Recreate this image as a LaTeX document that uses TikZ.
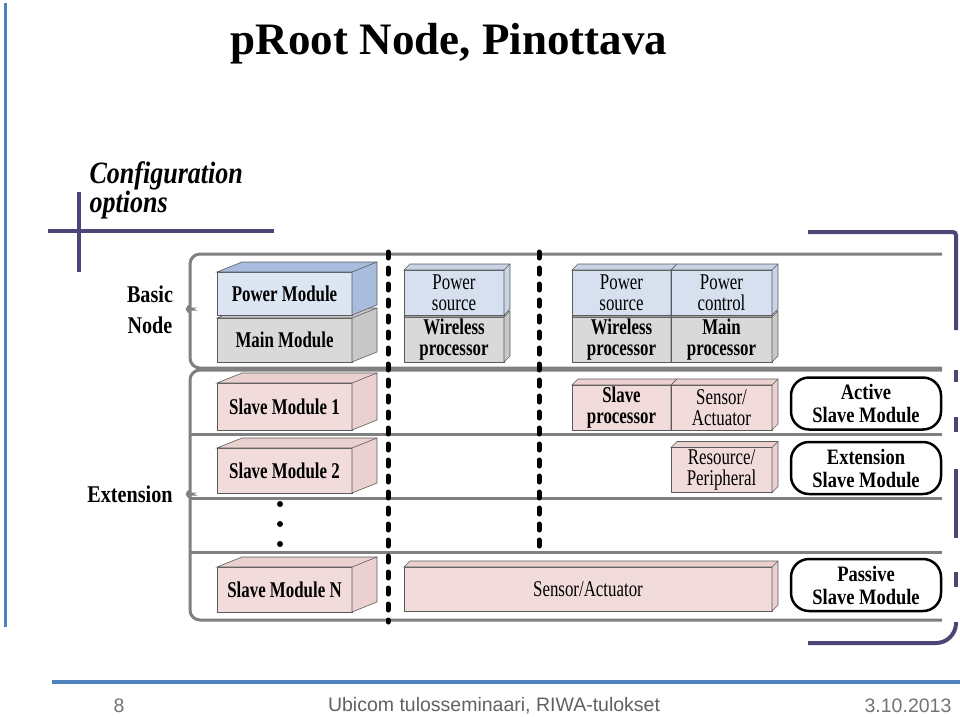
\documentclass[tikz,border=0pt]{standalone}
\usepackage{fontspec}
\setmainfont{Liberation Serif}
\newfontfamily\diagfont{Liberation Serif}[FakeStretch=0.84]
\newfontfamily\modfont{Liberation Serif}[FakeStretch=0.75]
\newfontfamily\footfont{Liberation Sans}
\usepackage{tikz}
\usetikzlibrary{positioning}

\definecolor{slideblue}{RGB}{79,129,189}
\definecolor{slidepurple}{RGB}{78,68,118}
\definecolor{rowgray}{RGB}{128,128,128}
\definecolor{edgegray}{RGB}{90,90,90}
\definecolor{pwrfront}{RGB}{220,230,242}
\definecolor{pwrside}{RGB}{168,189,222}
\definecolor{srcfront}{RGB}{214,224,238}
\definecolor{srcside}{RGB}{200,212,230}
\definecolor{mainfront}{RGB}{217,217,217}
\definecolor{mainside}{RGB}{200,200,200}
\definecolor{slavefront}{RGB}{242,220,219}
\definecolor{slaveside}{RGB}{234,208,207}

\tikzset{
  module/.style={draw=edgegray, line width=0.6pt, outer sep=0pt, inner sep=1pt,
    align=center, font=\modfont\fontsize{22.5}{21}\selectfont},
  kind/.style={draw, line width=2.5pt, rounded corners=18pt, minimum width=150pt,
    minimum height=52pt, align=center, font=\diagfont\bfseries\fontsize{22}{23}\selectfont},
  rowline/.style={rowgray, line width=3pt},
  bracket/.style={rowgray, line width=3pt, rounded corners=10pt},
  purpline/.style={slidepurple, line width=4pt},
  colsep/.style={line width=5pt, line cap=round, dash pattern=on 6pt off 10pt},
  grouplabel/.style={align=center, font=\diagfont\bfseries\fontsize{24}{31}\selectfont}
}

% top and side faces of a module box
\newcommand{\boxfaces}[4]{%
  \filldraw[draw=edgegray, line width=0.6pt, fill=#4]
    (#1.north west) -- ++(#2,-#3) -- ([shift={(#2,-#3)}]#1.north east)
    -- ([shift={(#2,-#3)}]#1.south east) -- (#1.south east) -- (#1.north east) -- cycle;
  \draw[edgegray, line width=0.6pt] (#1.north east) -- ++(#2,-#3);
}

\begin{document}
\begin{tikzpicture}[x=1pt,y=-1pt]
\useasboundingbox (0,0) rectangle (960,716);

% slide frame
\draw[slideblue, line width=3pt] (5,3) -- (5,627);
\draw[slideblue, line width=4pt] (52,682) -- (960,682);
\node[font=\bfseries\fontsize{45}{50}\selectfont] (title) at (449,44) {pRoot Node, Pinottava};
\node[font=\footfont\fontsize{19.5}{22}\selectfont, text=black!55] (pageno) at (119,706) {8};
\node[font=\footfont\fontsize{19.5}{22}\selectfont, text=black!62] (event) at (494,706) {Ubicom tulosseminaari, RIWA-tulokset};
\node[font=\footfont\fontsize{19.5}{22}\selectfont, text=black!55] (date) at (908,706) {3.10.2013};

% configuration options
\node[anchor=west, align=left, font=\diagfont\bfseries\itshape\fontsize{31}{28}\selectfont] (config) at (86,190) {Configuration\\options};
\draw[purpline] (48,231) -- (274,231);
\draw[purpline] (79,192) -- (79,272);
\draw[purpline, rounded corners=3pt] (808,232) -- (956,232) -- (956,330);
\draw[purpline] (956,370) -- (956,382);
\draw[purpline] (956,417) -- (956,432);
\draw[purpline] (956,469) -- (956,538);
\draw[purpline] (956,572) -- (956,587);
\draw[purpline, rounded corners=20pt] (956,622) -- (956,643) -- (808,643);

% rows
\draw[bracket] (942,254) -- (190,254) -- (190,298) to[out=-90,in=0] (180,309)
  to[out=0,in=90] (190,320) -- (190,368) -- (942,368);
\draw[bracket] (942,370) -- (190,370) -- (190,483) to[out=-90,in=0] (180,494)
  to[out=0,in=90] (190,505) -- (190,620) -- (942,620);
\draw[rowline] (190,434) -- (942,434);
\draw[rowline] (190,498) -- (942,498);
\draw[rowline] (190,552) -- (942,552);
\node[grouplabel] (basic) at (150,310) {Basic\\Node};
\node[grouplabel] (extension) at (130,494) {Extension};

\draw[colsep] (388,252) -- (388,622);
\draw[colsep] (539,252) -- (539,554);

% basic node
\node[module, fill=mainfront, minimum width=135pt, minimum height=44pt] (main) at (284.5,340) {\bfseries Main Module};
\boxfaces{main}{25}{10}{mainside}
\node[module, fill=pwrfront, minimum width=135pt, minimum height=43pt] (power) at (284.5,293.5) {\bfseries Power Module};
\boxfaces{power}{25}{10}{pwrside}

\node[module, fill=mainfront, minimum width=100pt, minimum height=45pt] (wless) at (454,339.5) {\bfseries Wireless\\\bfseries processor};
\boxfaces{wless}{6}{6}{mainside}
\node[module, fill=srcfront, minimum width=100pt, minimum height=45pt] (source) at (454,292.5) {Power\\source};
\boxfaces{source}{6}{6}{srcside}

\node[module, fill=mainfront, minimum width=99pt, minimum height=45pt] (wlessb) at (621.5,339.5) {\bfseries Wireless\\\bfseries processor};
\boxfaces{wlessb}{6}{6}{mainside}
\node[module, fill=mainfront, minimum width=101pt, minimum height=45pt] (mainproc) at (721.5,339.5) {\bfseries Main\\\bfseries processor};
\boxfaces{mainproc}{6}{6}{mainside}
\node[module, fill=srcfront, minimum width=99pt, minimum height=45pt] (sourceb) at (621.5,292.5) {Power\\source};
\boxfaces{sourceb}{6}{6}{srcside}
\node[module, fill=srcfront, minimum width=101pt, minimum height=45pt] (control) at (721.5,292.5) {Power\\control};
\boxfaces{control}{6}{6}{srcside}

% extension
\node[module, fill=slavefront, minimum width=135pt, minimum height=47pt] (slave1) at (284.5,406.5) {\bfseries Slave Module 1};
\boxfaces{slave1}{25}{10}{slaveside}
\node[module, fill=slavefront, minimum width=135pt, minimum height=45pt] (slave2) at (284.5,470.5) {\bfseries Slave Module 2};
\boxfaces{slave2}{25}{10}{slaveside}
\node[module, fill=slavefront, minimum width=135pt, minimum height=45pt] (slaven) at (284.5,589.5) {\bfseries Slave Module N};
\boxfaces{slaven}{25}{10}{slaveside}
\fill (280,504) circle (3pt) (280,524) circle (3pt) (280,544) circle (3pt);

\node[module, fill=slavefront, minimum width=99pt, minimum height=45pt] (slaveproc) at (621.5,407.5) {\bfseries Slave\\\bfseries processor};
\boxfaces{slaveproc}{6}{6}{slaveside}
\node[module, fill=slavefront, minimum width=101pt, minimum height=45pt] (sensor) at (721.5,407.5) {Sensor/\\Actuator};
\boxfaces{sensor}{6}{6}{slaveside}
\node[module, fill=slavefront, minimum width=101pt, minimum height=45pt] (resource) at (721.5,470) {Resource/\\Peripheral};
\boxfaces{resource}{6}{6}{slaveside}
\node[module, fill=slavefront, minimum width=368pt, minimum height=44pt] (sensorlong) at (588,589) {Sensor/Actuator};
\boxfaces{sensorlong}{6}{6}{slaveside}

% module kinds
\node[kind] (active) at (866,403.5) {Active\\Slave Module};
\node[kind] (extkind) at (866,468) {Extension\\Slave Module};
\node[kind] (passive) at (866,585) {Passive\\Slave Module};
\end{tikzpicture}
\end{document}
